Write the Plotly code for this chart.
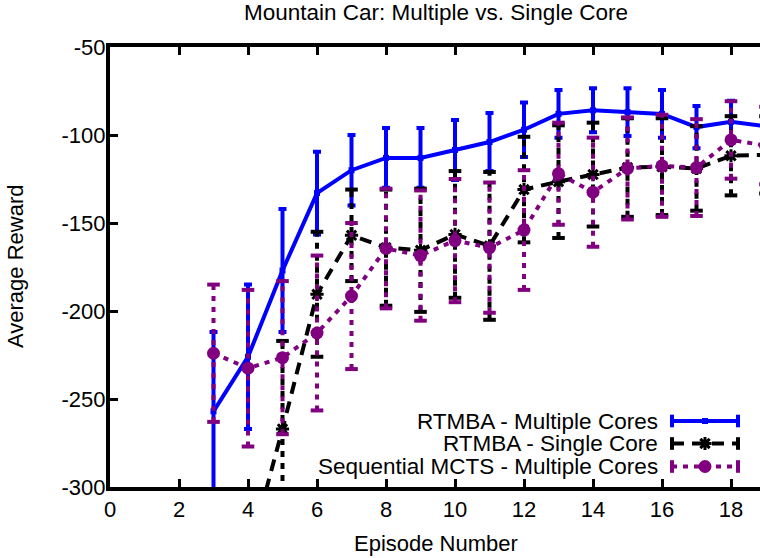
import plotly.graph_objects as go

# Episode index shared by all three series
episodes = list(range(3, 20))

# RTMBA running on multiple cores: mean reward and error half-width
multi_mean = [-257, -226, -177, -133, -120, -113, -113, -108.5, -104, -97, -88, -86, -87, -88, -95.5, -92.5, -95]
multi_err = [45, 41, 35, 23.5, 20, 17, 17, 17, 16.5, 15.5, 13.5, 12.5, 13.5, 13.5, 12, 12, 12]

# RTMBA running on a single core
single_mean = [-375, -340, -267, -190.5, -157, -164, -165.5, -156.5, -163, -131, -126.5, -122.5, -118.5, -118, -119, -111.8, -111.3]
single_err = [50, 38, 50, 35.5, 26, 33, 35, 36, 42, 30, 32, 29.5, 28, 27.5, 24, 22.5, 22]

# Sequential MCTS on multiple cores
mcts_mean = [-224, -232.5, -226.5, -212.5, -191.5, -164.5, -168.5, -160, -164, -154, -122, -132.5, -119, -117.5, -118.5, -102.8, -106]
mcts_err = [39, 44.5, 43.5, 44, 41.5, 34, 37, 35, 37, 34, 29, 31, 29, 29, 27.5, 22, 22]

x_ticks = list(range(0, 19, 2))
y_ticks = list(range(-300, -49, 50))
y_tick_text = ["-300", "-250", "-200", "-150", "-100", "-50"]

series_names = ["RTMBA - Multiple Cores", "RTMBA - Single Core", "Sequential MCTS - Multiple Cores"]

BLUE = "#0000ff"
BLACK = "#000000"
PURPLE = "#800080"
FONT = "Liberation Sans, Arial, Helvetica, sans-serif"

L, R, T, B = 110, 0, 47, 71
W, H = 760, 558
PLOT_W, PLOT_H = W - L - R, H - T - B


def px_to_paper(px, py):
    return (px - L) / PLOT_W, (H - B - py) / PLOT_H


def bar_segments(xs, means, errs):
    sx, sy = [], []
    for x, m, e in zip(xs, means, errs):
        sx += [x, x, None]
        sy += [m - e, m + e, None]
    return sx, sy


def bar_caps(xs, means, errs):
    cx, cy = [], []
    for x, m, e in zip(xs, means, errs):
        cx += [x, x]
        cy += [m - e, m + e]
    return cx, cy


fig = go.Figure()

# Multiple cores: solid line with solid error bars
fig.add_trace(go.Scatter(
    x=episodes, y=multi_mean, mode="lines+markers",
    line=dict(color=BLUE, width=4),
    marker=dict(symbol="square", size=6, color=BLUE),
    error_y=dict(type="data", array=multi_err, visible=True, color=BLUE, thickness=4, width=4),
    showlegend=False,
))


def dashed_series(xs, means, errs, color, dash, bar_dash, marker):
    sx, sy = bar_segments(xs, means, errs)
    fig.add_trace(go.Scatter(
        x=sx, y=sy, mode="lines", line=dict(color=color, width=4, dash=bar_dash),
        showlegend=False, hoverinfo="skip",
    ))
    cx, cy = bar_caps(xs, means, errs)
    fig.add_trace(go.Scatter(
        x=cx, y=cy, mode="markers",
        marker=dict(symbol="line-ew", size=9, color=color, line=dict(color=color, width=4)),
        showlegend=False, hoverinfo="skip",
    ))
    fig.add_trace(go.Scatter(
        x=xs, y=means, mode="lines+markers",
        line=dict(color=color, width=4, dash=dash),
        marker=marker, showlegend=False,
    ))


black_marker = dict(symbol="asterisk-open", size=11, color=BLACK, line=dict(color=BLACK, width=3))
purple_marker = dict(symbol="circle", size=13, color=PURPLE)

dashed_series(episodes, single_mean, single_err, BLACK, "12px,8px", "6px,6px", black_marker)
dashed_series(episodes, mcts_mean, mcts_err, PURPLE, "5px,6px", "5px,6px", purple_marker)

# Key samples drawn on a pixel-coordinate overlay axis pair
key_rows = [421, 443.5, 466.5]
key_x0, key_x1 = 672, 738
key_styles = [
    (BLUE, None, dict(symbol="square", size=6, color=BLUE)),
    (BLACK, "12px,8px", black_marker),
    (PURPLE, "5px,6px", purple_marker),
]
for yk, (color, dash, marker) in zip(key_rows, key_styles):
    fig.add_trace(go.Scatter(
        x=[key_x0, key_x1], y=[yk, yk], xaxis="x2", yaxis="y2", mode="lines",
        line=dict(color=color, width=4, dash=dash), showlegend=False, hoverinfo="skip",
    ))
    fig.add_trace(go.Scatter(
        x=[key_x0, key_x1], y=[yk, yk], xaxis="x2", yaxis="y2", mode="markers",
        marker=dict(symbol="line-ns", size=9, color=color, line=dict(color=color, width=4)),
        showlegend=False, hoverinfo="skip",
    ))
    fig.add_trace(go.Scatter(
        x=[(key_x0 + key_x1) / 2], y=[yk], xaxis="x2", yaxis="y2", mode="markers",
        marker=marker, showlegend=False, hoverinfo="skip",
    ))


def text_at(px, py, text, size, xanchor="center", angle=0):
    x, y = px_to_paper(px, py)
    return dict(x=x, y=y, xref="paper", yref="paper", text=text, showarrow=False,
                xanchor=xanchor, yanchor="middle", textangle=angle,
                font=dict(family=FONT, size=size, color="black"))


annotations = [text_at(660, yk, name, 22.5, xanchor="right") for yk, name in zip(key_rows, series_names)]
annotations += [
    text_at(436, 13, "Mountain Car: Multiple vs. Single Core", 22.5),
    text_at(436, 543, "Episode Number", 22),
    text_at(15, 267, "Average Reward", 22, angle=-90),
]

fig.update_layout(
    width=W, height=H,
    margin=dict(l=L, r=R, t=T, b=B, pad=0),
    paper_bgcolor="white", plot_bgcolor="white",
    font=dict(family=FONT, size=22, color="black"),
    annotations=annotations,
    xaxis=dict(
        range=[0, PLOT_W / 34.5], tickvals=x_ticks, ticks="inside", ticklen=8, tickwidth=3,
        tickcolor="black", showline=True, linewidth=4, linecolor="black", mirror="ticks",
        showgrid=False, zeroline=False, ticklabelstandoff=0,
    ),
    yaxis=dict(
        range=[-300, -50], tickvals=y_ticks, ticktext=y_tick_text, ticks="inside", ticklen=8,
        tickwidth=3, tickcolor="black", showline=True, linewidth=4, linecolor="black",
        showgrid=False, zeroline=False, ticklabelstandoff=-4,
    ),
    xaxis2=dict(range=[L, W - R], overlaying="x", visible=False, fixedrange=True),
    yaxis2=dict(range=[H - B, T], overlaying="y", visible=False, fixedrange=True),
)

fig.write_html("out.html")
